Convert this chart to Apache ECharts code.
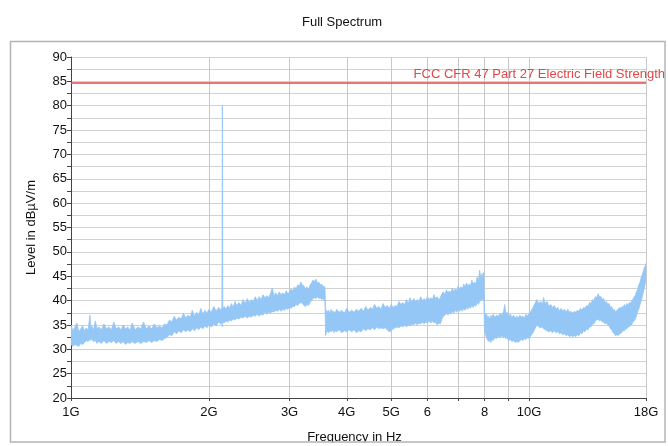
<!DOCTYPE html>
<html><head><meta charset="utf-8">
<script src="https://cdn.jsdelivr.net/npm/echarts@6/dist/echarts.min.js"></script>
<style>html,body{margin:0;padding:0;background:#fff}#c{width:668px;height:446px}</style>
</head><body><div id="c"></div>
<script>
// Frequency in GHz, upper and lower envelope of the measured trace in dBµV/m (each line aligned across the three arrays)
const freqGHz = [
 1.00,1.01,1.02,1.03,1.04,1.05,1.06,1.07,1.08,1.09,
 1.10,1.105,1.11,1.12,1.13,1.14,1.15,1.165,1.18,1.195,
 1.21,1.225,1.24,1.255,1.27,1.285,1.30,1.315,1.33,1.345,
 1.36,1.38,1.40,1.42,1.44,1.46,1.48,1.50,1.52,1.54,
 1.56,1.58,1.60,1.62,1.64,1.66,1.68,1.70,1.72,1.74,
 1.76,1.78,1.80,1.82,1.84,1.86,1.88,1.90,1.92,1.94,
 1.96,1.98,2.00,2.025,2.05,2.075,2.10,2.12,2.135,2.14,
 2.145,2.16,2.18,2.20,2.22,2.24,2.26,2.28,2.30,2.325,
 2.35,2.375,2.40,2.425,2.45,2.475,2.50,2.525,2.55,2.575,
 2.60,2.625,2.65,2.675,2.70,2.725,2.75,2.775,2.80,2.825,
 2.85,2.875,2.90,2.925,2.95,2.975,3.00,3.025,3.05,3.075,
 3.10,3.125,3.15,3.175,3.20,3.225,3.25,3.275,3.30,3.325,
 3.35,3.375,3.40,3.425,3.45,3.475,3.50,3.525,3.55,3.57,3.585,
 3.595,3.62,3.65,3.675,3.70,3.725,3.75,3.775,3.80,3.85,
 3.90,3.95,4.00,4.05,4.10,4.15,4.20,4.25,4.30,4.35,
 4.40,4.45,4.50,4.55,4.60,4.65,4.70,4.75,4.80,4.85,
 4.90,4.95,5.00,5.05,5.10,5.15,5.20,5.25,5.30,5.35,
 5.40,5.45,5.50,5.55,5.60,5.65,5.70,5.75,5.80,5.85,
 5.90,5.95,6.00,6.05,6.10,6.15,6.20,6.25,6.30,6.35,
 6.40,6.45,6.50,6.55,6.60,6.65,6.70,6.75,6.80,6.85,
 6.90,6.95,7.00,7.05,7.10,7.15,7.20,7.25,7.30,7.35,
 7.40,7.45,7.50,7.55,7.60,7.65,7.70,7.75,7.80,7.85,7.90,7.93,7.97,
 7.99,8.03,8.07,8.11,8.15,8.20,8.25,8.30,8.35,8.42,
 8.50,8.57,8.65,8.72,8.80,8.85,8.90,8.95,9.02,9.10,
 9.17,9.25,9.32,9.40,9.47,9.55,9.62,9.70,9.77,9.85,
 9.92,10.0,10.1,10.2,10.3,10.4,10.5,10.6,10.7,10.75,
 10.85,10.95,11.05,11.15,11.25,11.35,11.45,11.55,11.65,11.75,
 11.85,11.95,12.05,12.15,12.25,12.35,12.45,12.55,12.65,12.75,
 12.85,12.95,13.05,13.15,13.25,13.35,13.45,13.55,13.65,13.75,
 13.85,13.95,14.05,14.15,14.25,14.35,14.45,14.55,14.65,14.75,
 14.85,14.95,15.05,15.15,15.25,15.35,15.45,15.55,15.65,15.75,
 15.85,15.95,16.05,16.15,16.25,16.35,16.45,16.55,16.65,16.75,
 16.85,16.95,17.05,17.15,17.25,17.35,17.45,17.55,17.65,17.75,17.85,17.95,18.0
];
const upperDb = [
 35.0,33.8,34.6,35.4,33.6,34.2,34.8,33.8,34.4,33.9,
 37.0,34.2,34.8,34.0,35.8,34.2,34.6,34.0,35.2,34.2,
 34.6,34.0,35.6,34.2,34.6,34.0,35.0,34.2,34.6,33.9,
 35.4,34.0,34.6,34.2,35.6,34.2,34.8,34.2,35.2,34.4,
 34.8,34.4,35.2,35.0,36.0,35.6,36.8,36.0,36.6,36.2,
 37.4,36.4,37.0,36.6,38.0,36.8,37.6,37.0,38.4,37.2,
 38.0,37.4,38.2,37.6,38.8,37.8,38.6,38.0,38.6,80.0,
 38.2,38.8,38.2,39.0,38.4,39.4,38.6,39.8,39.0,39.6,
 39.0,40.2,39.4,40.4,39.6,40.2,39.8,40.8,40.0,40.8,
 40.2,41.2,40.6,41.0,40.6,41.4,42.6,41.0,41.6,41.0,
 41.8,41.2,41.6,41.2,42.0,41.4,41.8,42.4,42.0,42.8,
 42.4,43.2,43.0,43.8,43.2,43.0,42.4,42.8,42.2,43.2,
 43.6,44.2,43.8,44.4,43.6,43.8,43.2,43.4,42.8,43.0,42.6,
 38.4,37.6,38.0,37.4,38.2,37.6,37.8,37.4,38.2,37.6,
 38.0,37.4,38.4,37.6,38.0,37.6,38.2,37.8,38.4,37.8,
 38.8,38.0,38.6,38.2,39.2,38.4,38.8,38.2,39.4,38.6,
 39.0,38.4,39.2,38.6,39.0,38.8,39.8,39.2,39.6,39.2,
 40.2,39.4,40.6,39.6,40.4,39.8,40.2,39.8,40.8,40.0,
 40.4,40.0,40.8,40.2,40.6,40.2,41.2,40.4,40.8,40.2,
 40.6,41.4,41.8,41.2,42.2,41.6,42.0,41.6,42.6,41.8,
 42.4,42.0,43.0,42.4,42.8,42.4,43.4,42.8,43.6,43.0,
 43.4,43.0,44.2,43.4,43.8,43.4,44.8,44.0,46.2,44.6,45.6,44.8,45.8,
 37.6,37.0,37.4,36.6,36.8,36.2,37.0,36.6,37.2,36.6,
 37.0,36.8,37.4,37.0,37.8,39.2,37.2,37.6,36.8,37.2,
 36.6,37.0,36.4,36.8,36.4,37.0,36.6,36.8,36.4,37.2,
 36.8,37.4,37.8,38.6,39.4,40.2,39.4,39.8,39.2,40.6,
 39.4,39.8,38.8,39.2,38.6,39.0,38.2,38.6,37.8,38.4,
 37.8,38.2,37.6,38.2,37.6,37.8,37.4,37.8,37.6,38.0,
 37.8,38.4,38.0,38.6,38.4,39.0,38.8,39.6,39.4,40.2,
 40.0,40.8,40.6,41.4,40.8,40.8,40.2,40.4,39.6,39.8,
 39.2,39.4,38.6,38.8,38.0,38.2,37.6,38.0,38.2,38.6,
 38.4,38.8,38.6,39.2,38.8,39.4,39.0,39.6,39.4,40.0,
 40.2,40.8,41.0,41.8,42.2,43.2,43.6,44.6,45.2,46.0,46.8,47.2,47.6
];
const lowerDb = [
 31.0,30.6,31.0,30.8,30.6,31.2,31.0,31.4,31.8,31.6,
 32.0,31.8,32.2,31.6,31.8,31.2,31.6,31.2,31.8,31.2,
 31.6,31.4,31.8,31.2,31.6,31.2,31.6,31.0,31.4,31.2,
 31.6,31.2,31.6,31.2,31.6,31.4,31.8,31.4,31.8,31.6,
 32.0,31.8,32.2,32.4,33.0,32.8,33.6,33.2,33.8,33.4,
 34.0,33.6,34.0,33.6,34.2,33.8,34.4,34.0,34.6,34.2,
 34.8,34.4,35.0,34.6,35.2,34.8,35.6,35.2,35.4,34.6,
 35.6,35.4,35.8,35.6,36.0,35.8,36.2,36.0,36.4,36.2,
 36.6,36.4,36.8,36.4,36.8,36.6,37.0,36.8,37.2,36.8,
 37.2,37.0,37.6,37.2,37.6,37.4,37.8,37.6,38.0,37.8,
 38.2,37.8,38.2,38.0,38.4,38.2,38.6,38.4,38.8,38.8,
 39.2,39.0,39.4,39.6,39.4,39.0,38.8,39.2,39.0,39.6,
 40.0,40.4,40.6,40.4,40.8,40.4,40.6,40.2,40.4,40.0,39.8,
 32.8,33.8,33.4,33.8,33.6,34.0,33.4,33.8,33.6,34.0,
 33.4,33.8,33.6,34.0,33.6,34.0,33.4,33.8,33.6,34.2,
 33.8,34.2,34.0,34.4,34.0,34.6,34.2,34.4,34.2,34.4,
 34.0,33.6,33.8,34.2,34.4,34.6,34.4,34.8,34.6,35.0,
 34.6,35.0,34.8,35.2,35.0,35.4,35.0,35.4,35.2,35.6,
 35.2,35.6,35.4,35.8,35.4,35.8,35.4,35.6,35.0,35.4,
 35.2,36.2,36.8,37.0,37.4,37.0,37.6,37.2,37.8,37.4,
 38.0,37.6,38.2,37.8,38.2,37.8,38.4,38.0,38.6,38.2,
 38.8,38.4,39.0,38.6,39.2,38.8,39.6,39.2,39.8,40.0,40.4,40.0,40.6,
 34.4,33.2,32.4,32.0,31.6,31.8,31.4,32.0,31.8,32.4,
 32.2,32.6,32.4,32.8,32.4,32.6,32.2,32.4,31.8,32.0,
 31.6,31.8,31.4,31.6,31.4,31.8,32.0,31.8,32.2,32.0,
 32.4,32.2,32.8,33.4,34.2,35.0,34.6,34.4,34.6,34.2,
 34.0,33.8,33.6,33.8,33.4,33.8,33.4,33.6,33.2,33.4,
 33.0,33.2,32.8,33.0,32.6,32.8,32.6,32.8,32.6,33.0,
 32.8,33.4,33.2,33.8,33.6,34.2,34.0,34.6,34.6,35.2,
 35.2,35.8,36.0,36.2,35.8,36.0,35.6,35.6,35.2,35.4,
 35.0,34.8,34.2,34.0,33.4,33.2,32.8,33.0,32.8,33.2,
 33.2,33.6,33.8,33.8,34.2,34.2,34.6,34.6,35.0,35.0,
 35.6,35.8,36.2,36.8,37.6,38.2,39.0,39.8,40.6,41.6,42.6,43.6,44.4
];
const limitDb = 84.7;
const limitName = 'FCC CFR 47 Part 27 Electric Field Strength';
const xTickValues = [1,2,3,4,5,6,7,8,9,10,18];
const xTickLabels = ['1G','2G','3G','4G','5G','6','','8','','10G','18G'];

const bandData = freqGHz.map((f, i) => [f, upperDb[i], lowerDb[i]]);
const labelMap = {};
xTickValues.forEach((v, i) => { labelMap[v] = xTickLabels[i]; });

const font = 'Liberation Sans, Arial, sans-serif';
const bandColor = '#94c6f6';
const chart = echarts.init(document.getElementById('c'), null, {renderer: 'canvas'});
chart.setOption({
  animation: false,
  backgroundColor: '#fff',
  title: {
    text: 'Full Spectrum', left: 297, top: 11,
    textStyle: {fontFamily: font, fontSize: 13, fontWeight: 'normal', color: '#111'}
  },
  grid: {left: 71, right: 22, top: 57, bottom: 48, containLabel: false, outerBoundsMode: 'none'},
  xAxis: {
    type: 'log', logBase: 10, min: 1, max: 18,
    name: 'Frequency in Hz', nameLocation: 'middle', nameGap: 33,
    nameTextStyle: {fontFamily: font, fontSize: 13, color: '#111', padding: [0, 8, 0, 0]},
    axisLine: {show: true, lineStyle: {color: '#444', width: 1}},
    axisTick: {show: true, length: 3, customValues: xTickValues, lineStyle: {color: '#444'}},
    axisLabel: {
      customValues: xTickValues, margin: 8, fontFamily: font, fontSize: 13, color: '#111',
      formatter: v => { const k = Math.round(v * 1000) / 1000; return labelMap[k] !== undefined ? labelMap[k] : ''; }
    },
    splitLine: {show: true, lineStyle: {color: '#c8c8c8', width: 1}},
    minorTick: {show: false}, minorSplitLine: {show: false}
  },
  yAxis: {
    type: 'value', min: 20, max: 90, interval: 5,
    name: 'Level in dBµV/m', nameLocation: 'middle', nameGap: 33,
    nameTextStyle: {fontFamily: font, fontSize: 13, color: '#111'},
    axisLine: {show: true, lineStyle: {color: '#444', width: 1}},
    axisTick: {show: true, length: 4, lineStyle: {color: '#444'}},
    minorTick: {show: true, splitNumber: 2, length: 4, lineStyle: {color: '#444'}},
    axisLabel: {margin: 4, fontFamily: font, fontSize: 13, color: '#111'},
    splitLine: {show: true, lineStyle: {color: '#d2d2d2', width: 1}},
    minorSplitLine: {show: true, lineStyle: {color: '#d2d2d2', width: 1}}
  },
  series: [
    {
      type: 'custom', name: 'trace', data: bandData, silent: true, z: 3,
      encode: {x: 0, y: [1, 2]},
      clip: true,
      renderItem: (params, api) => {
        if (params.dataIndex !== 0) return null;
        const top = [], bot = [];
        for (let i = 0; i < freqGHz.length; i++) {
          top.push(api.coord([freqGHz[i], upperDb[i]]));
          bot.push(api.coord([freqGHz[i], lowerDb[i]]));
        }
        const pts = top.concat(bot.reverse());
        return {
          type: 'polygon', shape: {points: pts},
          style: {fill: bandColor, stroke: bandColor, lineWidth: 0.8}
        };
      }
    },
    {
      type: 'line', name: 'limit', data: [], silent: true, z: 4,
      markLine: {
        symbol: 'none', silent: true, animation: false,
        data: [{yAxis: limitDb}],
        lineStyle: {color: '#e04848', width: 1.5, type: 'solid'},
        label: {
          show: true, position: 'insideEndTop', formatter: limitName, distance: 2,
          offset: [21, 0], fontFamily: font, fontSize: 13, color: '#e04848'
        }
      }
    }
  ],
  graphic: [
    {type: 'rect', z: 100, silent: true, shape: {x: 0, y: 442.5, width: 668, height: 4}, style: {fill: '#fff'}},
    {type: 'rect', z: 101, silent: true, shape: {x: 10.5, y: 41.5, width: 654.5, height: 400.5},
     style: {fill: 'none', stroke: '#b4b4b4', lineWidth: 1.5}}
  ]
});
</script></body></html>
